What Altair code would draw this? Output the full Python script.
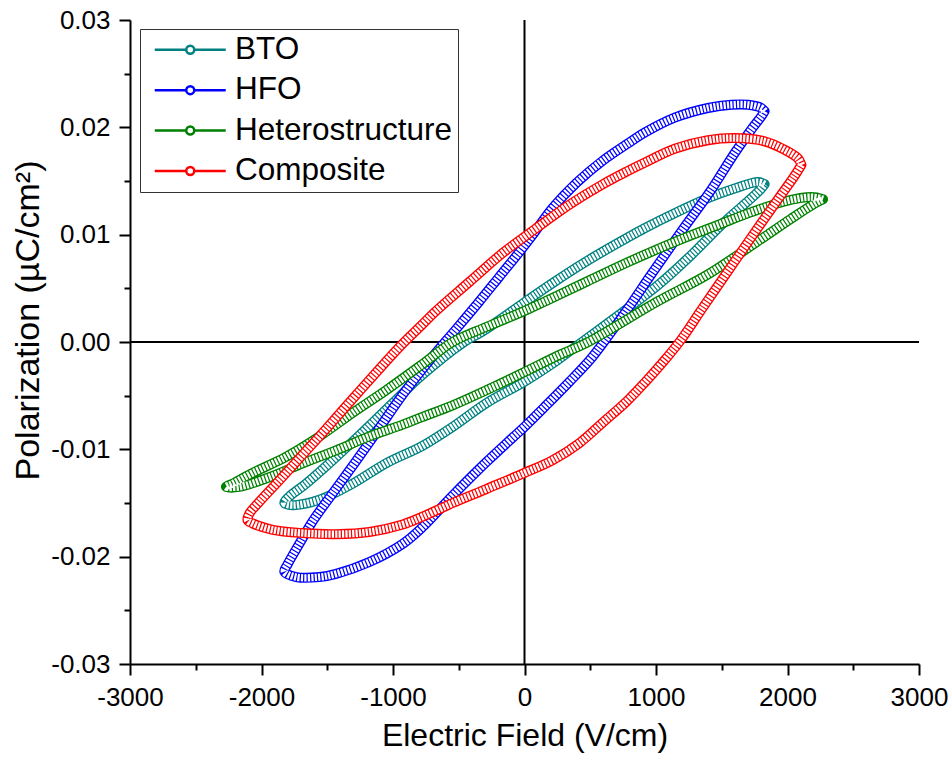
import altair as alt
import pandas as pd

FONT = "Liberation Sans"

series_names = ["BTO", "HFO", "Heterostructure", "Composite"]
series_colors = ["#008080", "#0000FF", "#008000", "#FF0000"]

# Loops: start at the positive tip, upper branch leftwards, lower branch back rightwards
bto_field = [1826, 1776, 1598, 1395, 1142, 913, 780, 469, 215, 0, -317, -460, -780, -1002,
             -1256, -1484, -1661, -1788, -1826, -1763, -1560, -1307, -1053, -780, -546, -291,
             0, 215, 393, 1015, 1268, 1522, 1725, 1801, 1826]
bto_pol = [0.0147, 0.0149, 0.0143, 0.0134, 0.0120, 0.0106, 0.0097, 0.0075, 0.0055, 0.0037,
           0.0010, 0.0000, -0.0031, -0.0057, -0.0087, -0.0113, -0.0132, -0.0144, -0.0150,
           -0.0152, -0.0147, -0.0132, -0.0113, -0.0097, -0.0079, -0.0057, -0.0037, -0.0020,
           -0.0004, 0.0053, 0.0081, 0.0112, 0.0134, 0.0143, 0.0147]

hfo_field = [1826, 1801, 1700, 1573, 1395, 1142, 913, 799, 596, 393, 215, 63, -38, -190, -342,
             -520, -647, -761, -926, -1103, -1281, -1459, -1611, -1712, -1801, -1826, -1737,
             -1560, -1433, -1180, -926, -780, -546, -291, -89, 0, 165, 342, 495, 609, 786, 964,
             1193, 1421, 1598, 1725, 1800, 1826]
hfo_pol = [0.0215, 0.0218, 0.0221, 0.0221, 0.0218, 0.0209, 0.0195, 0.0186, 0.0169, 0.0148,
           0.0125, 0.0100, 0.0084, 0.0061, 0.0038, 0.0012, -0.0006, -0.0023, -0.0049, -0.0080,
           -0.0111, -0.0141, -0.0167, -0.0188, -0.0207, -0.0214, -0.0219, -0.0219, -0.0216,
           -0.0205, -0.0188, -0.0173, -0.0143, -0.0112, -0.0089, -0.0079, -0.0059, -0.0037,
           -0.0017, 0.0001, 0.0031, 0.0063, 0.0103, 0.0142, 0.0176, 0.0198, 0.0210, 0.0215]

het_field = [2270, 2182, 1979, 1725, 1471, 1218, 964, 780, 469, 0, -291, -546, -780, -1053,
             -1307, -1560, -1814, -2068, -2220, -2270, -2169, -1941, -1687, -1433, -1180, -926,
             -780, -546, -291, 0, 266, 469, 1015, 1395, 1776, 2029, 2207, 2270]
het_pol = [0.0133, 0.0135, 0.0131, 0.0121, 0.0109, 0.0097, 0.0084, 0.0074, 0.0056, 0.0029,
           0.0014, 0.0000, -0.0021, -0.0045, -0.0066, -0.0088, -0.0107, -0.0122, -0.0132,
           -0.0135, -0.0135, -0.0126, -0.0113, -0.0101, -0.0088, -0.0077, -0.0070, -0.0059,
           -0.0045, -0.0028, -0.0012, -0.0001, 0.0038, 0.0063, 0.0094, 0.0115, 0.0129, 0.0133]

comp_field = [2106, 2080, 1979, 1826, 1598, 1395, 1142, 913, 780, 596, 342, 89, 0, -165, -419,
              -672, -780, -938, -1103, -1307, -1509, -1687, -1865, -2017, -2093, -2106, -2068,
              -1915, -1687, -1433, -1180, -926, -780, -546, -291, 0, 215, 419, 596, 780, 913,
              1065, 1190, 1345, 1547, 1750, 1928, 2055, 2106]
comp_pol = [0.0165, 0.0171, 0.0179, 0.0187, 0.0190, 0.0188, 0.0180, 0.0167, 0.0159, 0.0147,
            0.0128, 0.0106, 0.0098, 0.0083, 0.0056, 0.0029, 0.0016, -0.0003, -0.0025, -0.0053,
            -0.0081, -0.0105, -0.0129, -0.0149, -0.0160, -0.0166, -0.0169, -0.0175, -0.0178,
            -0.0179, -0.0177, -0.0170, -0.0163, -0.0150, -0.0137, -0.0122, -0.0110, -0.0094,
            -0.0075, -0.0055, -0.0038, -0.0017, 0.0002, 0.0030, 0.0066, 0.0102, 0.0133, 0.0155,
            0.0165]

x_ticks = [-3000, -2500, -2000, -1500, -1000, -500, 0, 500, 1000, 1500, 2000, 2500, 3000]
y_ticks = [-0.03, -0.025, -0.02, -0.015, -0.01, -0.005, 0.0, 0.005, 0.01, 0.015, 0.02, 0.025, 0.03]

rows = []
for name, E, P in zip(series_names,
                      [bto_field, hfo_field, het_field, comp_field],
                      [bto_pol, hfo_pol, het_pol, comp_pol]):
    for i, (e, p) in enumerate(zip(E, P)):
        rows.append({"series": name, "E": e, "P": p, "idx": i})
df = pd.DataFrame(rows)

MINUS = "\u2212"
x_axis = alt.Axis(
    title="Electric Field (V/cm)", values=x_ticks, format="d",
    labelExpr=f"datum.value % 1000 == 0 ? replace(datum.label, '{MINUS}', '-') : ''",
    tickSize={"condition": {"test": "datum.value % 1000 == 0", "value": 11}, "value": 6},
    labelFlush=False, labelOverlap=False, grid=False,
    labelFontSize=26, labelPadding=9, titleFontSize=32, titlePadding=10,
)
y_axis = alt.Axis(
    title="Polarization (\u00b5C/cm\u00b2)", values=y_ticks, format=".2f",
    labelExpr=f"abs(round(datum.value * 1000)) % 10 == 0 ? replace(datum.label, '{MINUS}', '-') : ''",
    tickSize={"condition": {"test": "abs(round(datum.value * 1000)) % 10 == 0", "value": 11}, "value": 6},
    labelFlush=False, labelOverlap=False, grid=False,
    labelFontSize=26, labelPadding=9, titleFontSize=34,
    titleX=-92, titleY=300, titleAngle=270, titleAlign="center", titleBaseline="alphabetic",
)

x_scale = alt.Scale(domain=[-3000, 3000], nice=False, zero=False)
y_scale = alt.Scale(domain=[-0.03, 0.03], nice=False, zero=False)

legend = alt.Legend(
    title=None, orient="none", legendX=10, legendY=9,
    symbolType="M-8.875,0L-1,0M1,0L8.875,0M1,0A1,1,0,1,1,-1,0A1,1,0,1,1,1,0Z",
    symbolSize=64, symbolStrokeWidth=2.5, symbolFillColor="white", symbolOpacity=1,
    symbolOffset=29.5, labelOffset=29, labelFontSize=31.5, labelFont=FONT, labelColor="black",
    labelLimit=400, rowPadding=7.4, padding=5, strokeColor="#333333", fillColor="white",
)
color_enc = alt.Color("series:N", scale=alt.Scale(domain=series_names, range=series_colors),
                      sort=series_names, legend=legend)

zero_h = pd.DataFrame({"E": [-3000], "E2": [3000], "P": [0.0]})
zero_v = pd.DataFrame({"E": [0], "P": [-0.03], "P2": [0.03]})

layers = [
    alt.Chart(zero_h).mark_rule(color="black", strokeWidth=2).encode(
        x=alt.X("E:Q", scale=x_scale, axis=x_axis), x2="E2:Q",
        y=alt.Y("P:Q", scale=y_scale, axis=y_axis)),
    alt.Chart(zero_v).mark_rule(color="black", strokeWidth=2).encode(
        x=alt.X("E:Q", scale=x_scale, axis=x_axis),
        y=alt.Y("P:Q", scale=y_scale, axis=y_axis), y2="P2:Q"),
]
for name in series_names:
    base = alt.Chart(df).transform_filter(alt.datum.series == name)
    enc = dict(x=alt.X("E:Q", scale=x_scale, axis=x_axis),
               y=alt.Y("P:Q", scale=y_scale, axis=y_axis),
               order=alt.Order("idx:Q"))
    layers.append(base.mark_line(strokeWidth=10, strokeCap="round", strokeJoin="round",
                                 interpolate="catmull-rom").encode(color=color_enc, **enc))
    layers.append(base.mark_line(strokeWidth=7.3, color="white", strokeDash=[2.2, 1.2],
                                 strokeCap="butt", interpolate="catmull-rom").encode(**enc))

chart = alt.layer(*layers).properties(
    width=789, height=644,
    autosize=alt.AutoSizeParams(type="none"),
    padding={"left": 130, "top": 20, "right": 32, "bottom": 93},
).configure_view(stroke=None).configure_axis(
    domainColor="black", domainWidth=2, tickColor="black", tickWidth=2,
    labelColor="black", titleColor="black", labelFont=FONT, titleFont=FONT,
    titleFontWeight="normal",
).configure_legend(symbolFillColor="white")

chart.save("out.html", embed_options={"renderer": "svg", "actions": False})
